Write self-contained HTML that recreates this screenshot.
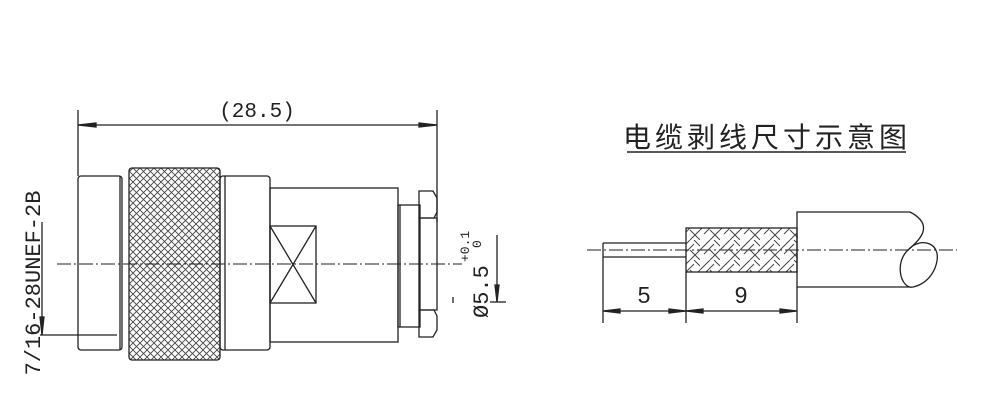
<!DOCTYPE html>
<html><head><meta charset="utf-8"><style>
html,body{margin:0;padding:0;background:#fff;}
svg{display:block;}
</style></head><body>
<svg width="1000" height="405" viewBox="0 0 1000 405" xmlns="http://www.w3.org/2000/svg">
<defs>
<pattern id="knurl" width="7" height="7" patternUnits="userSpaceOnUse">
<path d="M0,0 L7,7 M7,0 L0,7" stroke="#444" stroke-width="0.9"/>
</pattern>
<pattern id="braid" width="20" height="20" patternUnits="userSpaceOnUse">
<path d="M0,10 L10,0 M4,14 L14,4 M10,20 L20,10 M10,10 L20,20 M14,0 L20,6" stroke="#444" stroke-width="1" fill="none"/>
</pattern>
</defs>
<g fill="none" stroke="#222" stroke-width="1.3">
<line x1="78" y1="110" x2="78" y2="176"/>
<line x1="437" y1="110" x2="437" y2="222"/>
<line x1="78" y1="125" x2="437" y2="125"/>
<path d="M78,125 L96,123 L96,127 Z M437,125 L419,123 L419,127 Z" fill="#222"/>
<rect x="78" y="176" width="44" height="174" rx="3"/>
<line x1="120" y1="176" x2="120" y2="350"/>
<rect x="129" y="168" width="91" height="192" rx="3" fill="url(#knurl)"/>
<rect x="220" y="176" width="50" height="174" rx="3"/>
<line x1="225" y1="176" x2="225" y2="350"/>
<rect x="270" y="188" width="128" height="154"/>
<rect x="270" y="226" width="46" height="77"/>
<path d="M270,226 L316,303 M316,226 L270,303"/>
<rect x="398" y="205" width="22" height="122"/>
<line x1="400" y1="205" x2="400" y2="327"/>
<path d="M419,191 L433,191 L437,198 L437,212 L434,218 L419,218 Z"/>
<path d="M419,218 L437,218 L437,310 L419,310 Z"/>
<path d="M419,310 L434,310 L437,316 L437,330 L433,337 L419,337 Z"/>
<line x1="57" y1="264" x2="462" y2="264" stroke-width="1" stroke-dasharray="14,3,2,3"/>
<line x1="42" y1="222" x2="42" y2="335"/>
<line x1="40" y1="335" x2="117" y2="335"/>
<path d="M42,335 L40,317 L44,317 Z" fill="#222"/>
<line x1="497" y1="235" x2="497" y2="302"/>
<line x1="490" y1="302" x2="506" y2="302"/>
<path d="M497,302 L495,285 L499,285 Z" fill="#222"/>
<line x1="453" y1="297" x2="453" y2="303"/>
<line x1="587" y1="250" x2="957" y2="250" stroke-width="1" stroke-dasharray="14,3,2,3"/>
<path d="M603,243 L686,243 M603,257 L686,257"/>
<rect x="686" y="228" width="111" height="44" fill="url(#braid)"/>
<path d="M797,212 L910,212 C935,225 920,240 908,250 C895,262 900,285 910,287 L797,287 Z"/>
<path d="M908,250 C920,236 945,242 935,268 C928,285 912,288 910,287"/>
<line x1="603" y1="243" x2="603" y2="323"/>
<line x1="686" y1="272" x2="686" y2="323"/>
<line x1="797" y1="287" x2="797" y2="323"/>
<line x1="603" y1="311" x2="797" y2="311"/>
<path d="M603,311 L620,309 L620,313 Z M686,311 L669,309 L669,313 Z M686,311 L703,309 L703,313 Z M797,311 L780,309 L780,313 Z" fill="#222"/>
<line x1="627" y1="152" x2="906" y2="152" stroke-width="1.6"/>
</g>
<g font-family="Liberation Mono, monospace" fill="#222">
<text x="257" y="117" font-size="21" text-anchor="middle">(28.5)</text>
<text transform="translate(40,283) rotate(-90)" font-size="22" text-anchor="middle">7/16-28UNEF-2B</text>
<text transform="translate(488,318) rotate(-90)" font-size="22">Ø5.5</text>
<text transform="translate(469,262) rotate(-90)" font-size="13">+0.1</text>
<text transform="translate(481,248) rotate(-90)" font-size="13">0</text>
<text x="644" y="303" font-size="23" text-anchor="middle" font-family="Liberation Sans, sans-serif">5</text>
<text x="741" y="303" font-size="23" text-anchor="middle" font-family="Liberation Sans, sans-serif">9</text>
</g>
<text x="623" y="147" font-size="28" letter-spacing="4" fill="#222" font-family="Liberation Sans, Noto Sans CJK SC, sans-serif">电缆剥线尺寸示意图</text>
</svg>
</body></html>
